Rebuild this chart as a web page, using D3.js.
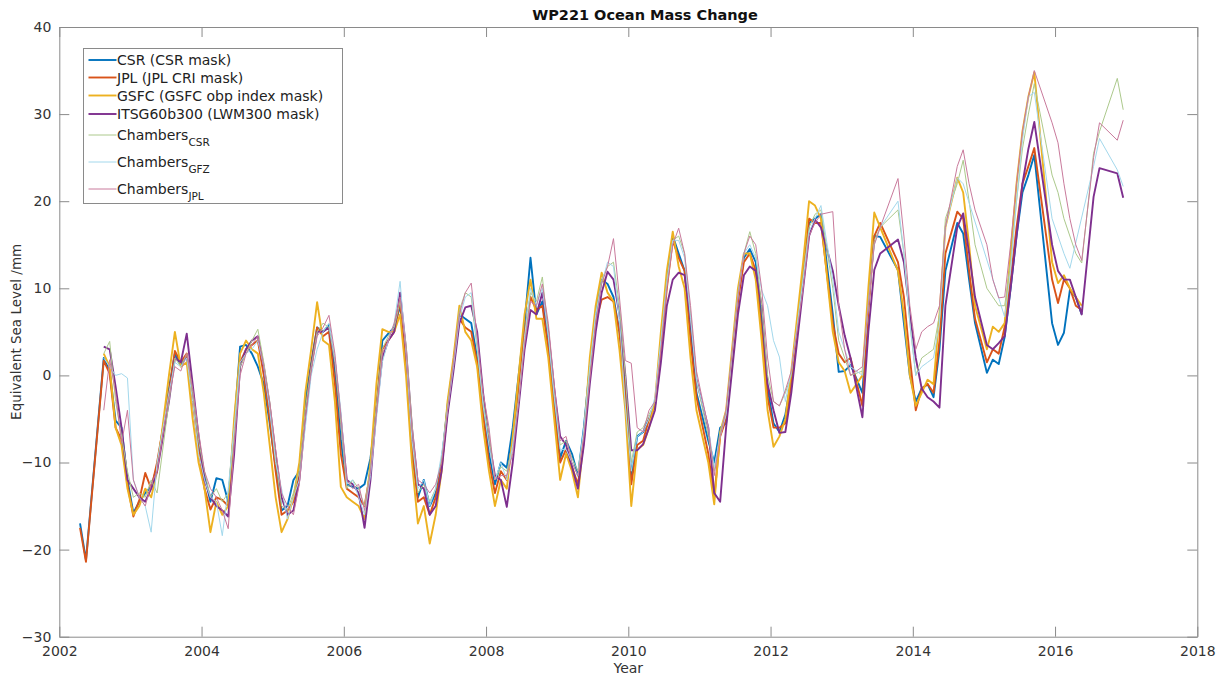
<!DOCTYPE html>
<html>
<head>
<meta charset="utf-8">
<script src="https://cdn.jsdelivr.net/npm/d3@7"></script>
<style>
  body { margin: 0; background: #fff; }
  svg { display: block; font-family: "DejaVu Sans", sans-serif; }
</style>
</head>
<body>
<svg id="chart" width="1229" height="679"></svg>
<script>
const n = null;

// monthly values, Jan 2002 .. Dec 2016 (mm equivalent sea level)
const startYear = 2002;
const xTicks = [2002, 2004, 2006, 2008, 2010, 2012, 2014, 2016, 2018];
const yTicks = [-30, -20, -10, 0, 10, 20, 30, 40];

const csr = [
  n,n,n,-17.0,-21.2,n,n,2.0,0.5,-5.2,-6.0,-12.0,
  -15.8,-14.5,-13.5,-12.8,-10.5,n,-1.5,2.5,1.2,2.2,-2.0,-7.5,
  -11.5,-14.5,-11.8,-12.0,-14.5,-6.0,3.3,3.5,2.5,1.0,-1.0,-5.5,
  -10.5,-15.5,-15.0,-12.0,-11.0,-3.0,1.5,5.5,5.0,5.8,0.5,-7.5,
  -12.5,-12.8,-13.0,-12.5,-9.5,-4.0,4.0,4.8,5.5,8.0,2.0,-9.0,
  -14.0,-12.0,-15.0,-13.5,-10.0,-3.5,1.5,7.0,6.5,6.0,2.0,-4.0,
  -9.0,-12.5,-10.0,-10.6,-6.0,0.0,6.0,13.5,7.0,8.5,3.5,-3.0,
  -9.5,-7.5,-9.0,-11.5,-6.0,1.0,7.0,11.0,10.5,9.0,5.0,-1.0,
  -11.5,-7.0,-6.5,-5.0,-3.5,3.5,11.0,16.0,14.0,12.0,5.0,-2.0,
  n,-7.5,-10.0,-6.0,-5.5,n,9.0,13.5,14.5,13.0,6.0,-1.5,
  -5.5,-6.5,-4.5,-0.5,n,11.0,17.5,18.0,18.5,n,7.0,0.4,
  0.5,1.2,n,-2.0,8.0,16.0,15.9,n,n,12.1,6.0,0.0,
  -3.0,-1.5,-1.0,-2.5,3.0,12.0,n,17.5,16.3,11.0,6.0,n,
  0.3,1.8,1.3,4.4,10.0,16.0,21.0,23.0,25.3,n,n,6.0,
  3.5,4.9,9.8,9.0,7.0,n,n,n,n,n,n,n
];
const jpl = [
  n,n,n,-17.5,-21.4,n,n,1.7,0.2,-6.0,-7.4,-12.5,
  -16.2,-14.3,-11.2,-13.0,-10.0,n,-2.0,2.8,1.5,2.5,-3.0,-8.5,
  -13.0,-15.4,-14.0,-14.3,-15.0,-7.0,1.5,3.0,3.5,4.0,0.0,-5.0,
  -11.0,-16.0,-15.5,-14.5,-11.5,-4.5,1.0,5.5,4.5,5.0,-1.0,-9.0,
  -13.0,-13.5,-14.0,-15.0,-11.0,-3.5,3.0,4.0,5.0,8.5,1.5,-8.0,
  -14.5,-14.0,-16.0,-14.0,-10.5,-4.0,1.0,6.5,5.5,5.0,1.5,-4.5,
  -10.0,-13.5,-11.0,-12.0,-7.5,-1.5,5.0,9.0,7.5,8.0,3.0,-4.0,
  -10.0,-8.5,-10.5,-12.5,-7.5,0.5,6.0,8.7,9.0,8.5,5.0,-2.0,
  -12.5,-8.0,-7.5,-5.0,-3.5,3.0,10.0,15.5,13.5,12.0,4.0,-2.5,
  n,-9.0,-14.0,-7.0,-5.0,n,8.5,13.0,14.0,12.0,5.0,-2.5,
  -6.0,-6.0,-5.5,-1.0,n,11.5,18.0,17.5,17.5,n,6.0,2.5,
  1.5,2.0,n,-3.5,7.5,16.0,17.5,n,n,13.0,9.0,2.0,
  -4.0,-1.5,-1.0,-2.0,4.0,14.0,n,18.8,18.0,12.0,6.5,n,
  1.5,3.0,2.5,5.6,11.0,17.0,22.0,24.0,26.1,n,n,11.0,
  8.3,11.0,10.0,8.0,7.5,n,n,n,n,n,n,n
];
const gsfc = [
  n,n,n,n,n,n,n,2.5,1.0,-6.0,-8.0,-13.0,
  -16.0,-15.0,-13.0,-14.0,-11.0,n,0.0,5.0,1.0,1.5,-5.0,-10.0,
  -13.0,-18.0,-14.5,-16.0,-15.0,-5.0,2.5,4.0,3.0,2.5,-2.0,-8.0,
  -14.0,-18.0,-16.5,-14.0,-10.0,-2.0,3.0,8.4,4.0,3.5,-3.0,-12.8,
  -14.0,-14.5,-15.0,-16.5,-10.0,-1.0,5.3,5.0,5.0,7.0,0.0,-10.0,
  -17.0,-15.0,-19.3,-16.0,-11.0,-3.0,2.0,8.0,5.0,4.0,1.0,-6.0,
  -11.0,-15.0,-12.0,-13.0,-7.0,0.0,7.0,11.0,6.5,6.5,2.0,-5.0,
  -12.0,-9.0,-11.0,-14.0,-7.0,2.0,8.0,11.8,9.5,8.5,3.0,-4.0,
  -15.0,-8.5,-8.0,-6.0,-3.0,5.0,12.0,16.5,12.5,10.0,2.0,-4.0,
  n,-10.0,-14.8,-6.5,-4.0,n,10.0,14.0,14.0,11.0,4.0,-4.0,
  -8.2,-7.0,-5.0,0.5,n,13.0,20.0,19.5,18.0,n,5.0,1.5,
  0.5,-2.0,n,0.0,10.0,18.7,17.0,n,n,12.0,7.0,0.0,
  -3.5,-2.0,-0.5,-1.0,7.0,17.0,n,22.7,21.0,15.0,8.0,n,
  3.0,5.6,5.0,6.0,14.0,22.0,28.0,32.0,34.8,n,n,13.0,
  10.6,11.5,10.0,9.0,8.0,n,n,n,n,n,n,n
];
const itsg = [
  n,n,n,n,n,n,n,3.3,3.0,-1.3,-6.0,-12.0,
  -13.0,-14.0,-14.5,-13.0,-11.0,n,-3.0,2.0,1.5,4.8,-1.0,-7.0,
  -12.0,-14.0,-15.0,-15.5,-16.2,-9.0,1.0,3.0,4.0,4.5,1.0,-3.5,
  -9.0,-14.0,-16.0,-15.5,-12.0,-5.0,1.0,5.0,5.0,5.5,1.5,-5.0,
  -12.0,-12.5,-13.5,-17.5,-12.0,-4.0,2.0,4.0,5.0,9.5,3.0,-6.0,
  -12.5,-13.0,-16.0,-15.0,-11.0,-4.5,0.5,6.0,7.8,8.0,5.0,-2.0,
  -7.5,-11.5,-12.0,-15.1,-10.0,-3.5,3.0,7.5,7.0,9.5,5.0,-1.5,
  -7.0,-8.0,-10.5,-13.0,-8.0,-1.0,5.0,9.5,11.9,11.0,7.0,0.0,
  -8.6,-8.6,-7.9,-6.0,-4.0,1.5,8.0,11.0,11.8,11.5,6.5,-0.5,
  n,-6.0,-13.5,-14.5,-6.0,n,7.0,11.5,12.5,12.0,8.0,-1.0,
  -4.0,-6.6,-6.5,-2.0,n,10.0,16.0,17.9,17.0,n,12.0,8.0,
  4.6,2.0,n,-4.8,5.0,12.1,14.0,n,n,15.6,13.0,7.0,
  2.0,-1.5,-2.5,-3.0,-3.7,8.0,n,17.0,18.6,14.0,9.0,n,
  3.5,3.0,3.7,4.5,10.0,16.0,22.0,26.0,29.1,n,n,15.0,
  12.0,11.0,11.0,9.0,7.0,n,20.5,23.8,n,n,23.2,20.4
];
const chambersCsr = [
  n,n,n,n,n,n,n,2.5,3.9,-3.0,-7.0,-11.0,
  -14.0,-13.5,-14.0,-12.0,-13.5,n,-3.0,2.0,1.0,2.5,-2.0,-7.5,
  -11.0,-14.0,-13.0,-14.5,-13.5,-7.0,1.0,2.5,4.0,5.3,1.5,-3.0,
  -9.5,-15.0,-15.5,-13.5,-11.0,-4.0,1.0,5.0,6.0,5.5,1.5,-5.5,
  -13.0,-12.0,-13.0,-15.0,-10.5,-3.5,3.0,4.5,5.5,8.5,3.5,-5.5,
  -13.5,-12.5,-14.5,-13.0,-9.5,-3.5,1.5,7.5,9.5,9.0,3.0,-3.0,
  -7.0,-12.0,-10.5,-11.0,-8.0,-2.5,4.0,9.5,8.5,11.3,5.0,-2.0,
  -8.0,-7.5,-9.5,-11.0,-6.5,0.5,7.0,11.0,12.5,13.0,8.0,0.0,
  -10.0,-6.5,-6.0,-4.5,-3.0,4.0,11.0,15.5,16.0,14.0,7.0,-0.5,
  n,-7.0,-11.0,-6.5,-4.0,n,9.5,14.0,16.5,14.0,8.0,0.0,
  -3.0,-3.5,-2.0,0.0,n,11.5,17.0,18.5,19.0,n,10.0,4.0,
  2.0,0.0,n,0.5,8.5,15.5,17.0,n,n,19.0,14.0,6.0,
  0.0,2.0,2.5,3.0,7.0,18.0,n,22.0,24.7,20.0,15.0,n,
  10.0,9.0,8.0,8.0,13.0,20.0,26.0,30.0,33.5,n,n,23.0,
  21.0,18.0,16.0,14.0,12.9,n,25.5,28.0,n,n,34.1,30.5
];
const chambersGfz = [
  n,n,n,n,n,n,n,2.0,1.0,0.0,0.2,-0.3,
  -12.0,-14.0,-15.0,-18.0,-10.0,n,-2.0,1.5,1.0,2.0,-3.0,-9.0,
  -12.0,-14.0,-14.5,-18.4,-13.0,-6.0,1.5,2.5,3.0,4.0,1.0,-4.0,
  -10.0,-13.0,-16.5,-14.0,-12.0,-6.0,0.0,3.0,5.0,6.0,2.0,-4.0,
  -12.5,-12.0,-14.0,-16.0,-11.5,-5.0,1.5,4.0,6.0,10.8,2.5,-7.5,
  -13.0,-12.0,-15.0,-13.0,-9.0,-4.0,1.0,6.5,9.0,9.5,3.5,-3.5,
  -8.0,-12.0,-10.0,-12.0,-8.0,-3.0,4.5,10.0,8.0,10.0,4.5,-2.5,
  -8.5,-8.5,-10.0,-11.5,-6.0,1.0,7.0,10.5,13.0,12.5,6.5,-3.5,
  -11.0,-7.0,-6.5,-5.0,-2.5,4.0,10.5,15.5,15.5,13.5,6.5,-0.5,
  n,-6.0,-10.5,-7.0,-4.5,n,9.0,14.0,15.0,13.5,9.8,8.0,
  4.0,2.1,-3.0,0.5,n,11.0,16.5,18.0,19.5,n,11.0,5.0,
  3.0,1.0,n,0.0,8.0,15.0,17.0,n,n,20.0,14.0,6.0,
  0.0,1.0,1.5,2.0,6.0,17.0,n,22.7,22.0,n,n,n,
  n,n,n,6.7,12.0,20.0,27.0,32.0,32.5,n,n,18.0,
  16.0,14.0,12.3,n,n,n,24.0,27.2,n,n,23.6,21.7
];
const chambersJpl = [
  n,n,n,n,n,n,n,-4.0,1.8,-2.0,-7.8,-4.0,
  -12.0,-14.0,-15.0,-12.5,-11.0,n,-2.5,1.0,0.5,2.5,-1.5,-6.5,
  -11.0,-13.0,-14.0,-15.5,-17.6,-8.0,0.0,2.5,3.5,4.5,1.0,-3.0,
  -8.5,-13.5,-15.0,-16.0,-12.5,-5.0,0.5,4.5,5.5,6.9,2.5,-4.5,
  -12.0,-13.0,-12.5,-15.5,-11.0,-4.5,2.5,4.0,6.0,9.0,3.0,-6.0,
  -12.0,-12.5,-13.5,-12.5,-10.0,-4.0,1.5,7.0,9.5,10.6,4.4,-2.0,
  -6.0,-12.0,-11.5,-11.5,-9.0,-3.0,3.5,8.5,8.0,10.5,6.0,-1.0,
  -7.5,-7.0,-10.0,-11.5,-7.0,-0.5,6.0,10.5,12.5,15.7,9.0,1.7,
  1.4,-6.0,-6.5,-4.0,-3.0,3.0,10.0,15.0,16.9,14.0,8.0,0.5,
  n,-6.0,-11.5,-7.0,-4.0,n,9.0,14.0,16.0,15.0,10.0,2.0,
  -3.0,-3.5,-1.7,0.5,n,10.0,16.0,17.5,18.5,n,18.8,8.0,
  3.0,0.0,n,1.0,8.0,15.0,17.0,n,n,22.6,16.0,8.0,
  3.0,5.0,5.6,6.0,8.0,17.0,n,24.0,25.9,22.0,19.0,n,
  15.0,11.0,8.9,9.0,15.0,22.0,28.0,32.0,35.0,n,n,29.0,
  26.7,22.0,18.0,15.0,13.2,n,25.0,29.0,n,n,27.0,29.3
];

const seriesNames = ["CSR (CSR mask)", "JPL (JPL CRI mask)", "GSFC (GSFC obp index mask)",
  "ITSG60b300 (LWM300 mask)", "Chambers", "Chambers", "Chambers"];
const subscripts = ["", "", "", "", "CSR", "GFZ", "JPL"];
const seriesValues = [csr, jpl, gsfc, itsg, chambersCsr, chambersGfz, chambersJpl];
const colors = ["#0072bd", "#d95319", "#edb120", "#7e2f8e", "#acc98c", "#a3d8ec", "#c97a9c"];
const lineWidths = [1.9, 1.9, 1.9, 1.9, 1, 1, 1];

const series = seriesValues.map((vals, i) => ({
  name: seriesNames[i],
  sub: subscripts[i],
  color: colors[i],
  width: lineWidths[i],
  points: vals.map((v, k) => ({ t: startYear + (k + 0.5) / 12, v: v }))
}));

const margin = {top: 27, right: 31.7, bottom: 42.3, left: 59.3};
const W = 1229, H = 679;
const width = W - margin.left - margin.right;
const height = H - margin.top - margin.bottom;

const svg = d3.select("#chart");
const g = svg.append("g")
    .attr("transform", `translate(${ margin.left },${ margin.top })`);

const x = d3.scaleLinear().domain([2002, 2018]).range([0, width]);
const y = d3.scaleLinear().domain([-30, 40]).range([height, 0]);

const axisColor = "#8a8a8a";
const labelColor = "#333";

const styleAxis = (sel) => {
  sel.select(".domain").attr("stroke", axisColor);
  sel.selectAll(".tick line").attr("stroke", axisColor);
  sel.selectAll(".tick text").attr("fill", labelColor)
      .attr("font-size", 14).attr("font-family", "DejaVu Sans, sans-serif");
};

g.append("g")
    .attr("transform", `translate(0,${ height })`)
    .call(d3.axisBottom(x).tickValues(xTicks).tickFormat(d3.format("d"))
      .tickSizeInner(-10).tickSizeOuter(0).tickPadding(9))
    .call(styleAxis);

g.append("g")
    .call(d3.axisTop(x).tickValues(xTicks).tickFormat("")
      .tickSizeInner(-10).tickSizeOuter(0))
    .call(styleAxis);

g.append("g")
    .call(d3.axisLeft(y).tickValues(yTicks)
      .tickSizeInner(-10).tickSizeOuter(0).tickPadding(8))
    .call(styleAxis);

g.append("g")
    .attr("transform", `translate(${ width },0)`)
    .call(d3.axisRight(y).tickValues(yTicks).tickFormat("")
      .tickSizeInner(-10).tickSizeOuter(0))
    .call(styleAxis);

const line = d3.line()
    .defined((d) => d.v !== null)
    .x((d) => x(d.t))
    .y((d) => y(d.v));

g.selectAll(".series")
    .data(series)
  .enter().append("path")
    .attr("class", "series")
    .attr("fill", "none")
    .attr("stroke", (d) => d.color)
    .attr("stroke-width", (d) => d.width)
    .attr("stroke-linejoin", "round")
    .attr("d", (d) => line(d.points.filter((p) => p.v !== null)));

// title and axis labels
svg.append("text")
    .attr("x", 645)
    .attr("y", 20)
    .attr("text-anchor", "middle")
    .attr("font-weight", "bold")
    .attr("font-size", 14.5)
    .attr("fill", "#111")
    .text("WP221 Ocean Mass Change");

svg.append("text")
    .attr("x", margin.left + width / 2)
    .attr("y", 673)
    .attr("text-anchor", "middle")
    .attr("font-size", 14)
    .attr("fill", labelColor)
    .text("Year");

svg.append("text")
    .attr("transform", `translate(21,${ margin.top + height / 2 }) rotate(-90)`)
    .attr("text-anchor", "middle")
    .attr("font-size", 13.5)
    .attr("fill", labelColor)
    .text("Equivalent Sea Level /mm");

// legend
const legend = svg.append("g").attr("transform", "translate(83.5,48.5)");
legend.append("rect")
    .attr("width", 259)
    .attr("height", 155)
    .attr("fill", "#fff")
    .attr("stroke", axisColor);

const rowY = [11.5, 29, 47, 65.5, 86.5, 113.5, 140.5];

const item = legend.selectAll(".item")
    .data(series)
  .enter().append("g")
    .attr("class", "item")
    .attr("transform", (d, i) => `translate(0,${ rowY[i] })`);

item.append("line")
    .attr("x1", 5).attr("x2", 33)
    .attr("stroke", (d) => d.color)
    .attr("stroke-width", (d) => d.width);

const label = item.append("text")
    .attr("x", 33.5)
    .attr("y", 5)
    .attr("font-size", 14)
    .attr("fill", "#222");

label.append("tspan").text((d) => d.name);
label.filter((d) => d.sub)
  .append("tspan")
    .attr("dy", 6)
    .attr("font-size", 10.5)
    .text((d) => d.sub);
</script>
</body>
</html>
